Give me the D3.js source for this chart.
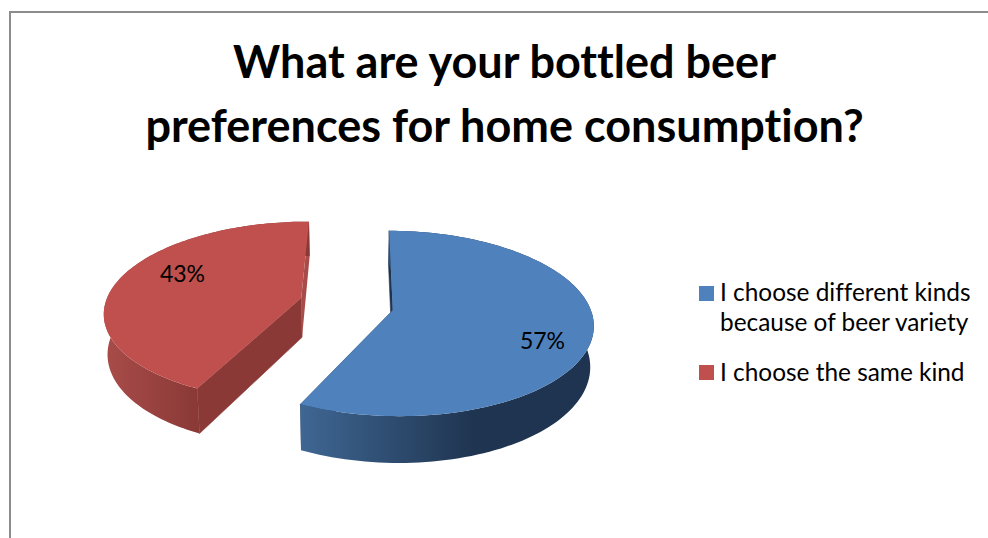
<!DOCTYPE html>
<html>
<head>
<meta charset="utf-8">
<script src="https://cdnjs.cloudflare.com/ajax/libs/d3/7.8.5/d3.min.js"></script>
<style>
  html, body { margin: 0; padding: 0; background: #fff; }
  svg { display: block; }
  text { font-family: Lato, "Open Sans", sans-serif; fill: #000; font-variant-ligatures: none; }
</style>
</head>
<body>
<svg id="chart" width="988" height="538"></svg>
<script>
// Survey results
const categories = ["I choose different kinds because of beer variety", "I choose the same kind"];
const shares = [57, 43];
const legendLines = [["I choose different kinds", "because of beer variety"], ["I choose the same kind"]];
const titleLines = ["What are your bottled beer", "preferences for home consumption?"];
const topColors = ["#4f81bd", "#c0504d"];
const cutColors = ["#1f3552", "#8a3937"];
const backColors = ["#1f3552", "#a84c49"];
const wallStops = [["#3f6793", "#1f3450"], ["#a84c49", "#8a3937"]];
const wallSpans = [[300, 475], [105, 197]];
const explodeX = [0.196, -0.2716];
const explodeZ = [0, -0.1335];
const labelAnchors = [[542.5, 349], [182.5, 282]];
const legendRows = [[286, 300.5, 331], [365, 380.5]];

const svg = d3.select("#chart");

// Frame: only the top and left sides fall inside the window
svg.append("path")
  .attr("d", d3.line()([[10, 538], [10, 12], [988, 12]]))
  .attr("fill", "none").attr("stroke", "#8c8c8c").attr("stroke-width", 2);

// Title
svg.append("g").selectAll("text").data(titleLines).join("text")
  .attr("x", 504.5)
  .attr("y", (d, i) => 78 + i * 63.5)
  .attr("text-anchor", "middle")
  .attr("font-size", 45)
  .attr("font-weight", 700)
  .text(d => d);

// Perspective of the pie plane: x across, z towards the viewer, h = 1 for the lower rim
const horizonX = 354, horizonY = -316, planeC = 626, radiusX = 198, tilt = 0.145, thickness = 40, lowerShrink = 0.985;
function project(x, z, h) {
  const w = 1 - tilt * z;
  const px = radiusX * x / w * (h ? lowerShrink : 1);
  return [horizonX + px, horizonY + (planeC + h * thickness) / w];
}

// Small clockwise turn of the whole pie
const turn = 0.4 * Math.PI / 180;
const arcs = d3.pie().sort(null).startAngle(turn).endAngle(2 * Math.PI + turn)(shares);

// Point on the rim of slice i at pie angle a
const rim = (i, a, h) => project(explodeX[i] + Math.sin(a), explodeZ[i] - Math.cos(a), h);
const hub = (i, h) => project(explodeX[i], explodeZ[i], h);
const samples = (d) => d3.range(0, 121).map(k => d.startAngle + (d.endAngle - d.startAngle) * k / 120);

const defs = svg.append("defs");
wallStops.forEach((stops, i) => {
  const g = defs.append("linearGradient")
    .attr("id", "wall" + i)
    .attr("gradientUnits", "userSpaceOnUse")
    .attr("x1", wallSpans[i][0]).attr("x2", wallSpans[i][1])
    .attr("y1", 0).attr("y2", 0);
  g.append("stop").attr("offset", 0).attr("stop-color", stops[0]);
  g.append("stop").attr("offset", 1).attr("stop-color", stops[1]);
});

const closed = d3.line().curve(d3.curveLinearClosed);
const pieGroup = svg.append("g");

arcs.forEach((d, i) => {
  const group = pieGroup.append("g").attr("class", "slice");
  const as = samples(d);
  // Cut face at the start angle
  const startFace = i === 0 ? backColors[i] : cutColors[i];
  group.append("path")
    .attr("d", closed([rim(i, d.startAngle, 0), hub(i, 0), hub(i, 1), rim(i, d.startAngle, 1)]))
    .attr("fill", startFace).attr("stroke", startFace).attr("stroke-width", 0.6);
  // Cut face at the end angle
  group.append("path")
    .attr("d", closed([rim(i, d.endAngle, 0), hub(i, 0), hub(i, 1), rim(i, d.endAngle, 1)]))
    .attr("fill", backColors[i]);
  // Outer wall
  const upper = as.map(a => rim(i, a, 0));
  const lower = as.map(a => rim(i, a, 1)).reverse();
  group.append("path")
    .attr("d", closed(upper.concat(lower)))
    .attr("fill", `url(#wall${i})`);
  // Top face
  group.append("path")
    .attr("d", closed([hub(i, 0)].concat(upper)))
    .attr("fill", topColors[i]);
});

// Value labels
svg.append("g").selectAll("text").data(shares).join("text")
  .attr("x", (d, i) => labelAnchors[i][0])
  .attr("y", (d, i) => labelAnchors[i][1])
  .attr("text-anchor", "middle")
  .attr("font-size", 23)
  .text(d => d + "%");

// Legend
const legend = svg.append("g").selectAll("g").data(categories).join("g");
legend.append("rect")
  .attr("x", 699)
  .attr("y", (d, i) => legendRows[i][0])
  .attr("width", 15).attr("height", 15)
  .attr("fill", (d, i) => topColors[i]);
legend.each(function (d, i) {
  d3.select(this).selectAll("text").data(legendLines[i]).join("text")
    .attr("x", 720)
    .attr("y", (t, k) => legendRows[i][k + 1])
    .attr("font-size", 24.4)
    .text(t => t);
});
</script>
</body>
</html>
